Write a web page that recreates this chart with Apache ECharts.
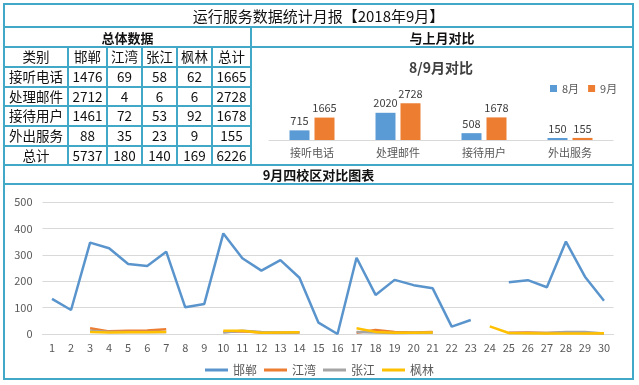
<!DOCTYPE html>
<html><head><meta charset="utf-8">
<script src="https://cdn.jsdelivr.net/npm/echarts@6/dist/echarts.min.js"></script>
<style>
html,body{margin:0;padding:0;background:#fff;}
#wrap{position:relative;width:639px;height:385px;overflow:hidden;font-family:"Noto Sans CJK SC","Noto Sans",sans-serif;}
.ln{position:absolute;background:#41A8C8;}
.cell{position:absolute;display:flex;align-items:center;justify-content:center;color:#111;white-space:nowrap;line-height:1;}
#chart{position:absolute;left:0;top:0;width:639px;height:385px;}
</style></head>
<body><div id="wrap"><div id="chart"></div></div>
<script>
// ---- data ----
const reportTitle = '运行服务数据统计月报【2018年9月】';
const rowCats = ['接听电话','处理邮件','接待用户','外出服务'];
const campuses = ['邯郸','江湾','张江','枫林'];
const handanCol = [1476, 2712, 1461, 88];
const jiangwanCol = [69, 4, 72, 35];
const zhangjiangCol = [58, 6, 53, 23];
const fenglinCol = [62, 6, 92, 9];
const augVals = [715, 2020, 508, 150];
const days = ['1','2','3','4','5','6','7','8','9','10','11','12','13','14','15','16','17','18','19','20','21','22','23','24','25','26','27','28','29','30'];
const handanDaily = [133,91,346,325,265,258,312,101,114,381,287,240,280,213,43,0,289,148,205,185,173,28,53,null,196,204,177,350,217,126];
const jiangwanDaily = [null,null,22,10,12,13,18,null,null,8,10,6,5,6,null,null,5,15,8,6,8,null,null,null,5,6,4,6,4,3];
const zhangjiangDaily = [null,null,12,8,8,8,8,null,null,6,12,8,6,6,null,null,8,6,4,5,5,null,null,null,4,4,4,8,8,2];
const fenglinDaily = [null,null,8,6,7,7,8,null,null,12,12,5,6,7,null,null,22,8,5,5,6,null,null,29,4,3,2,2,2,3];

const cols = [handanCol, jiangwanCol, zhangjiangCol, fenglinCol];
const sepVals = rowCats.map((_, i) => cols.reduce((s, c) => s + c[i], 0));

// ---- layout (HTML table) ----
const wrap = document.getElementById('wrap');
function hl(x1, x2, y, t) { const d = document.createElement('div'); d.className = 'ln'; t = t || 2;
  d.style.left = x1 + 'px'; d.style.top = (y - t / 2) + 'px'; d.style.width = (x2 - x1) + 'px'; d.style.height = t + 'px'; wrap.appendChild(d); }
function vl(x, y1, y2, t) { const d = document.createElement('div'); d.className = 'ln'; t = t || 2;
  d.style.left = (x - t / 2) + 'px'; d.style.top = y1 + 'px'; d.style.width = t + 'px'; d.style.height = (y2 - y1) + 'px'; wrap.appendChild(d); }
function cell(x1, y1, x2, y2, text, css) { const d = document.createElement('div'); d.className = 'cell';
  d.style.left = x1 + 'px'; d.style.top = y1 + 'px'; d.style.width = (x2 - x1) + 'px'; d.style.height = (y2 - y1) + 'px';
  d.textContent = text; if (css) Object.assign(d.style, css); wrap.appendChild(d); }

const colX = [4, 68, 107, 142, 177, 212, 251];
const rowY = [47, 67, 87, 106, 126, 146, 165];
cell(4, 4, 633, 27, reportTitle, {fontSize: '15px'});
cell(4, 27, 251, 47, '总体数据', {fontSize: '13px', fontWeight: 'bold'});
cell(251, 27, 633, 47, '与上月对比', {fontSize: '13px', fontWeight: 'bold'});
cell(4, 165, 633, 184, '9月四校区对比图表', {fontSize: '13px', fontWeight: 'bold'});
const header = ['类别'].concat(campuses, ['总计']);
const totalsRow = cols.map(c => c.reduce((a, b) => a + b, 0));
const tableRows = [header];
rowCats.forEach((r, i) => tableRows.push([r].concat(cols.map(c => c[i]), [sepVals[i]])));
tableRows.push(['总计'].concat(totalsRow, [totalsRow.reduce((a, b) => a + b, 0)]));
tableRows.forEach((row, ri) => row.forEach((v, ci) => {
  cell(colX[ci], rowY[ri], colX[ci + 1], rowY[ri + 1], String(v), {fontSize: '13.5px'});
}));
hl(3, 634, 4); hl(3, 634, 27); hl(3, 634, 47); hl(3, 634, 165); hl(3, 634, 184); hl(3, 634, 379);
[67, 87, 106, 126, 146].forEach(y => hl(4, 251, y));
vl(4, 3, 380); vl(633, 3, 380); vl(251, 27, 165);
[68, 107, 142, 177, 212].forEach(x => vl(x, 47, 165));

// ---- charts ----
const chart = echarts.init(document.getElementById('chart'), null, {renderer: 'canvas'});
const ff = '"Noto Sans CJK SC","Noto Sans",sans-serif';
const lineColors = ['#5A94CC', '#ED7D31', '#A5A5A5', '#FFC000'];
const dailySets = [handanDaily, jiangwanDaily, zhangjiangDaily, fenglinDaily];
chart.setOption({
  animation: false,
  backgroundColor: 'transparent',
  textStyle: {fontFamily: ff},
  graphic: [{type: 'text', x: 441, y: 68, style: {text: '8/9月对比', align: 'center', verticalAlign: 'middle', font: 'bold 14px ' + ff, fill: '#404040'}}],
  legend: [
    {data: ['8月', '9月'], left: 545, top: 78, icon: 'rect', itemWidth: 7, itemHeight: 7, itemGap: 9,
     textStyle: {fontSize: 11, color: '#595959'}},
    {data: campuses, left: 'center', top: 359, icon: 'rect', itemWidth: 23, itemHeight: 3, itemGap: 7,
     textStyle: {fontSize: 12, color: '#595959'}}
  ],
  grid: [
    {left: 269, top: 99.6, width: 344, height: 40.4},
    {left: 42.5, top: 202, width: 571, height: 132}
  ],
  xAxis: [
    {gridIndex: 0, type: 'category', data: rowCats, axisLine: {lineStyle: {color: '#D9D9D9'}}, axisTick: {show: false},
     axisLabel: {fontSize: 11, color: '#595959', margin: 7}},
    {gridIndex: 1, type: 'category', data: days, axisLine: {lineStyle: {color: '#D9D9D9'}}, axisTick: {show: false},
     axisLabel: {fontSize: 11, color: '#595959', margin: 8, interval: 0}}
  ],
  yAxis: [
    {gridIndex: 0, type: 'value', min: 0, max: 3000, show: false},
    {gridIndex: 1, type: 'value', min: 0, max: 500, interval: 100, axisLine: {show: false}, axisTick: {show: false},
     splitLine: {lineStyle: {color: '#D9D9D9'}}, axisLabel: {fontSize: 11, color: '#595959', margin: 10}}
  ],
  series: [
    {name: '8月', type: 'bar', xAxisIndex: 0, yAxisIndex: 0, data: augVals, barWidth: 20, barGap: '25%',
     itemStyle: {color: '#5B9BD5'}, label: {show: true, position: 'top', distance: 4, fontSize: 11, color: '#404040'}},
    {name: '9月', type: 'bar', xAxisIndex: 0, yAxisIndex: 0, data: sepVals, barWidth: 20, barGap: '25%',
     itemStyle: {color: '#ED7D31'}, label: {show: true, position: 'top', distance: 4, fontSize: 11, color: '#404040'}}
  ].concat(campuses.map((name, i) => ({
    name: name, type: 'line', xAxisIndex: 1, yAxisIndex: 1, data: dailySets[i], symbol: 'none', showSymbol: false,
    lineStyle: {width: 2.5, color: lineColors[i]}, itemStyle: {color: lineColors[i]}, connectNulls: false
  })))
});
</script>
</body></html>
